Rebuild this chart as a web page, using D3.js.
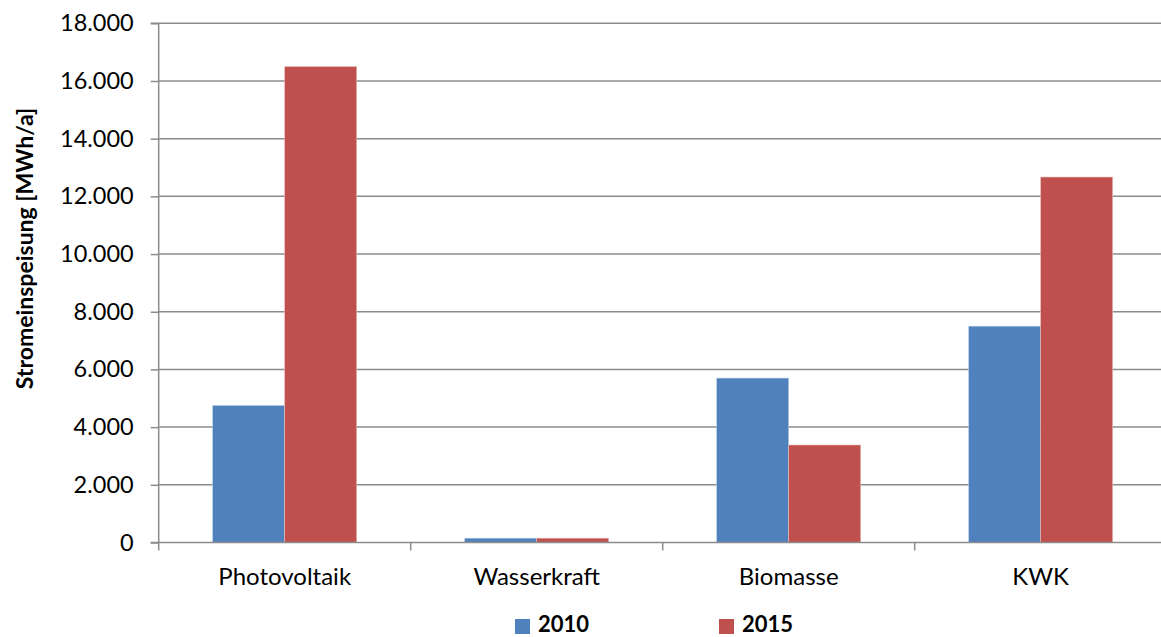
<!DOCTYPE html>
<html><head><meta charset="utf-8">
<script src="https://cdn.jsdelivr.net/npm/d3@7"></script>
<style>html,body{margin:0;padding:0;background:#fff;}svg{display:block;font-family:Lato,"Open Sans",sans-serif;}</style>
</head><body>
<svg id="chart" width="1161" height="637"></svg>
<script>
const categories = ["Photovoltaik", "Wasserkraft", "Biomasse", "KWK"];
const seriesNames = ["2010", "2015"];
const values2010 = [4750, 150, 5700, 7500];
const values2015 = [16500, 150, 3380, 12670];
const yTicks = [0, 2000, 4000, 6000, 8000, 10000, 12000, 14000, 16000, 18000];
const colors = ["#4F81BD", "#C0504D"];

const svg = d3.select("#chart");
const x0 = 158.7, x1 = 1166.7, yTop = 23.3, yBot = 542.5;
const x = d3.scaleBand().domain(categories).range([x0, x1]).paddingInner(0).paddingOuter(0);
const y = d3.scaleLinear().domain([0, 18000]).range([yBot, yTop]);
const fmt = v => d3.format(",")(v).replace(/,/g, ".");

// gridlines
svg.append("g").selectAll("line").data(yTicks.filter(d => d > 0)).join("line")
  .attr("x1", x0).attr("x2", x1).attr("y1", d => y(d)).attr("y2", d => y(d))
  .attr("stroke", "#8c8c8c").attr("stroke-width", 1.5);

// bars
const data = categories.map((c, i) => ({c, v: [values2010[i], values2015[i]]}));
const bw = x.bandwidth() / 3.5;
const g = svg.append("g");
data.forEach(d => {
  d.v.forEach((v, j) => {
    const bx = x(d.c) + x.bandwidth() / 2 - bw + j * bw;
    g.append("rect").attr("x", bx).attr("y", y(v)).attr("width", bw).attr("height", yBot - y(v))
      .attr("fill", colors[j]).attr("stroke", j === 0 ? "#b9cde5" : "#e6b9b8").attr("stroke-width", 0.6);
  });
});

// y axis
const yAxis = d3.axisLeft(y).tickValues(yTicks).tickFormat(fmt).tickSize(8).tickPadding(17);
const ya = svg.append("g").attr("transform", `translate(${x0},0)`).call(yAxis);
ya.select(".domain").attr("stroke", "#8c8c8c").attr("stroke-width", 1.5).attr("d", `M-8,${yTop}H0V${yBot}`);
ya.selectAll(".tick line").attr("stroke", "#8c8c8c").attr("stroke-width", 1.5);
ya.selectAll(".tick text").attr("font-size", 23.5).attr("font-family", "Lato").attr("fill", "#000");

// x axis
const xAxis = d3.axisBottom(x).tickSize(0).tickPadding(25);
const xa = svg.append("g").attr("transform", `translate(0,${yBot})`).call(xAxis);
xa.select(".domain").attr("stroke", "#8c8c8c").attr("stroke-width", 1.5).attr("d", `M${x0 - 8},0H${x1}`);
xa.selectAll(".tick text").attr("font-size", 24).attr("font-family", "Lato").attr("fill", "#000");
const bounds = categories.map(c => x(c)).concat([x1]);
xa.selectAll(".sep").data(bounds).join("line").attr("class", "sep")
  .attr("x1", d => d).attr("x2", d => d).attr("y1", 0).attr("y2", 8)
  .attr("stroke", "#8c8c8c").attr("stroke-width", 1.5);

// y title
svg.append("text").attr("transform", `translate(33,248.5) rotate(-90)`)
  .attr("text-anchor", "middle").attr("font-size", 23).attr("font-weight", "bold").attr("font-family", "Lato")
  .text("Stromeinspeisung [MWh/a]");

// legend
const legX = [515, 719];
seriesNames.forEach((s, i) => {
  svg.append("rect").attr("x", legX[i]).attr("y", 619).attr("width", 15).attr("height", 15).attr("fill", colors[i]);
  svg.append("text").attr("x", legX[i] + 23).attr("y", 632).attr("font-size", 22).attr("font-weight", "bold")
    .attr("font-family", "Lato").text(s);
});
</script>
</body></html>
